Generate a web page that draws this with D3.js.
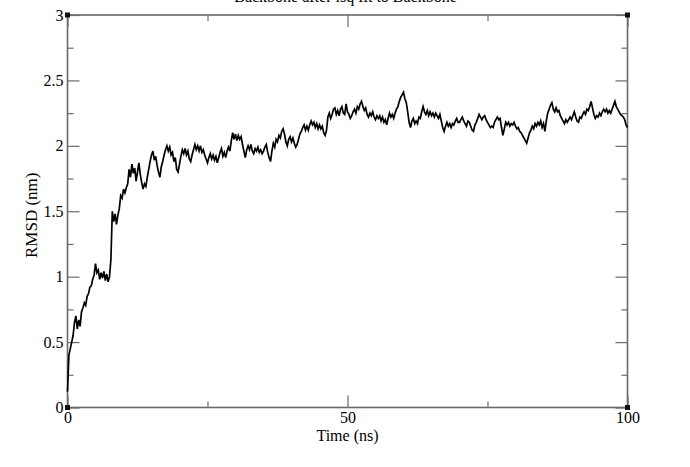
<!DOCTYPE html>
<html>
<head>
<meta charset="utf-8">
<script src="https://cdn.jsdelivr.net/npm/d3@7"></script>
<style>
  html, body { margin: 0; padding: 0; background: #fff; }
  svg { display: block; }
  text { font-family: "Liberation Serif", "DejaVu Serif", serif; fill: #000; }
</style>
</head>
<body>
<svg id="chart" width="690" height="467"></svg>
<script>
// ---- data ----
const titleText = "Backbone after lsq fit to Backbone";
const xLabel = "Time (ns)";
const yLabel = "RMSD (nm)";
const xMajorTicks = [0, 50, 100];
const xMinorTicks = [25, 75];
const yMajorTicks = [0, 0.5, 1, 1.5, 2, 2.5, 3];
const yMinorTicks = [0.25, 0.75, 1.25, 1.75, 2.25, 2.75];
const xTickLabels = ["0", "50", "100"];
const yTickLabels = ["0", "0.5", "1", "1.5", "2", "2.5", "3"];
const timeStep = 0.25; // ns between samples
const rmsd = [
  0.12,0.40,0.45,0.50,0.55,0.65,0.70,0.60,0.67,0.62,0.73,0.76,0.80,0.78,0.85,0.87,0.92,0.93,0.98,1.01,
  1.10,1.03,1.05,0.98,1.03,0.99,1.04,0.97,1.02,0.96,1.00,1.13,1.50,1.42,1.48,1.40,1.47,1.52,1.62,1.60,
  1.67,1.64,1.68,1.71,1.82,1.76,1.86,1.79,1.83,1.73,1.80,1.87,1.78,1.72,1.67,1.71,1.69,1.76,1.82,1.88,
  1.93,1.96,1.89,1.92,1.85,1.80,1.76,1.84,1.88,1.93,1.97,2.00,1.96,1.99,1.93,1.95,1.88,1.91,1.82,1.80,
  1.86,1.92,1.97,1.94,1.98,1.93,1.96,1.90,1.88,1.93,1.97,2.01,1.97,2.00,1.96,2.00,1.95,1.97,1.93,1.90,
  1.87,1.91,1.94,1.90,1.93,1.89,1.92,1.87,1.91,1.95,1.98,1.92,1.95,1.91,1.96,1.99,1.96,2.04,2.10,2.05,
  2.09,2.04,2.08,2.05,2.07,2.01,1.96,1.91,1.97,2.00,1.97,2.01,1.96,1.94,1.98,1.96,1.99,1.95,1.97,1.94,
  1.96,1.99,2.01,1.95,1.91,1.88,1.96,2.02,1.99,2.05,2.03,2.08,2.06,2.11,2.13,2.09,2.03,2.00,2.05,2.07,
  2.03,2.06,2.02,1.99,2.01,2.05,2.09,2.11,2.14,2.16,2.12,2.15,2.12,2.16,2.19,2.16,2.18,2.14,2.17,2.13,
  2.16,2.13,2.15,2.10,2.08,2.12,2.22,2.25,2.21,2.24,2.28,2.29,2.24,2.27,2.23,2.28,2.30,2.25,2.24,2.32,
  2.26,2.24,2.21,2.23,2.26,2.28,2.25,2.30,2.28,2.32,2.34,2.30,2.27,2.29,2.24,2.22,2.25,2.23,2.26,2.22,
  2.20,2.23,2.21,2.23,2.19,2.22,2.18,2.20,2.16,2.21,2.25,2.22,2.24,2.21,2.25,2.28,2.30,2.34,2.37,2.39,
  2.41,2.36,2.33,2.26,2.18,2.14,2.19,2.21,2.17,2.19,2.17,2.22,2.21,2.26,2.30,2.26,2.24,2.27,2.23,2.26,
  2.23,2.25,2.22,2.25,2.23,2.21,2.24,2.19,2.14,2.11,2.15,2.18,2.15,2.17,2.14,2.17,2.16,2.19,2.21,2.18,
  2.18,2.20,2.22,2.19,2.17,2.15,2.19,2.18,2.15,2.12,2.11,2.16,2.18,2.21,2.24,2.22,2.20,2.22,2.23,2.20,
  2.18,2.16,2.14,2.15,2.14,2.18,2.20,2.22,2.20,2.21,2.14,2.08,2.13,2.18,2.16,2.18,2.15,2.17,2.16,2.18,
  2.15,2.13,2.14,2.11,2.10,2.08,2.06,2.04,2.02,2.06,2.10,2.12,2.15,2.13,2.17,2.15,2.18,2.16,2.19,2.14,
  2.17,2.11,2.19,2.25,2.28,2.31,2.33,2.28,2.26,2.29,2.26,2.27,2.23,2.21,2.19,2.17,2.20,2.18,2.20,2.22,
  2.20,2.23,2.26,2.22,2.19,2.18,2.22,2.21,2.24,2.26,2.24,2.28,2.27,2.30,2.34,2.29,2.24,2.21,2.23,2.22,
  2.25,2.23,2.26,2.28,2.26,2.28,2.25,2.27,2.25,2.28,2.31,2.34,2.30,2.28,2.26,2.24,2.23,2.22,2.20,2.16,
  2.14
];

// ---- layout ----
const L = 67.5, R = 627.5, T = 15, B = 407.5;
const svg = d3.select("#chart");
const x = d3.scaleLinear().domain([0, 100]).range([L, R]);
const y = d3.scaleLinear().domain([0, 3]).range([B, T]);

const frameColor = "#6a6a6a";

function styleAxis(g) {
  g.select(".domain").remove();
  g.selectAll(".tick line").attr("stroke", frameColor).attr("stroke-width", 1.2);
  g.selectAll(".tick text")
    .style("font-family", '"Liberation Serif", serif')
    .style("font-size", "16px")
    .attr("fill", "#000");
}

// bottom axis
svg.append("g").attr("transform", `translate(0,${B})`)
  .call(d3.axisBottom(x).tickValues(xMajorTicks).tickSize(-12).tickPadding(4)
    .tickFormat((d, i) => xTickLabels[i]))
  .call(styleAxis);
svg.append("g").attr("transform", `translate(0,${B})`)
  .call(d3.axisBottom(x).tickValues(xMinorTicks).tickSize(-6).tickFormat(""))
  .call(styleAxis);
// top axis
svg.append("g").attr("transform", `translate(0,${T})`)
  .call(d3.axisTop(x).tickValues(xMajorTicks).tickSize(-12).tickFormat(""))
  .call(styleAxis);
svg.append("g").attr("transform", `translate(0,${T})`)
  .call(d3.axisTop(x).tickValues(xMinorTicks).tickSize(-6).tickFormat(""))
  .call(styleAxis);
// left axis
svg.append("g").attr("transform", `translate(${L},0)`)
  .call(d3.axisLeft(y).tickValues(yMajorTicks).tickSize(-12).tickPadding(4)
    .tickFormat((d, i) => yTickLabels[i]))
  .call(styleAxis);
svg.append("g").attr("transform", `translate(${L},0)`)
  .call(d3.axisLeft(y).tickValues(yMinorTicks).tickSize(-6).tickFormat(""))
  .call(styleAxis);
// right axis
svg.append("g").attr("transform", `translate(${R},0)`)
  .call(d3.axisRight(y).tickValues(yMajorTicks).tickSize(-12).tickFormat(""))
  .call(styleAxis);
svg.append("g").attr("transform", `translate(${R},0)`)
  .call(d3.axisRight(y).tickValues(yMinorTicks).tickSize(-6).tickFormat(""))
  .call(styleAxis);

// frame
svg.append("rect")
  .attr("x", L).attr("y", T).attr("width", R - L).attr("height", B - T)
  .attr("fill", "none").attr("stroke", frameColor).attr("stroke-width", 1.6);

// data line
const line = d3.line()
  .x((d, i) => x(i * timeStep))
  .y(d => y(d));
svg.append("path")
  .datum(rmsd)
  .attr("fill", "none")
  .attr("stroke", "#000")
  .attr("stroke-width", 1.7)
  .attr("stroke-linejoin", "miter")
  .attr("d", line);

// corner markers
const corners = [[0, 0], [0, 3], [100, 0], [100, 3]];
svg.selectAll("rect.corner").data(corners).enter().append("rect")
  .attr("class", "corner")
  .attr("x", d => x(d[0]) - 2.5).attr("y", d => y(d[1]) - 2.5)
  .attr("width", 5).attr("height", 5)
  .attr("fill", "#111");

// labels
svg.append("text")
  .attr("x", (L + R) / 2).attr("y", 441)
  .attr("text-anchor", "middle")
  .style("font-size", "16px")
  .text(xLabel);
svg.append("text")
  .attr("transform", `translate(37,${(T + B) / 2 + 4}) rotate(-90)`)
  .attr("text-anchor", "middle")
  .style("font-size", "17px")
  .text(yLabel);
svg.append("text")
  .attr("x", (L + R) / 2 - 2).attr("y", 2)
  .attr("text-anchor", "middle")
  .style("font-size", "16px")
  .text(titleText);
</script>
</body>
</html>
